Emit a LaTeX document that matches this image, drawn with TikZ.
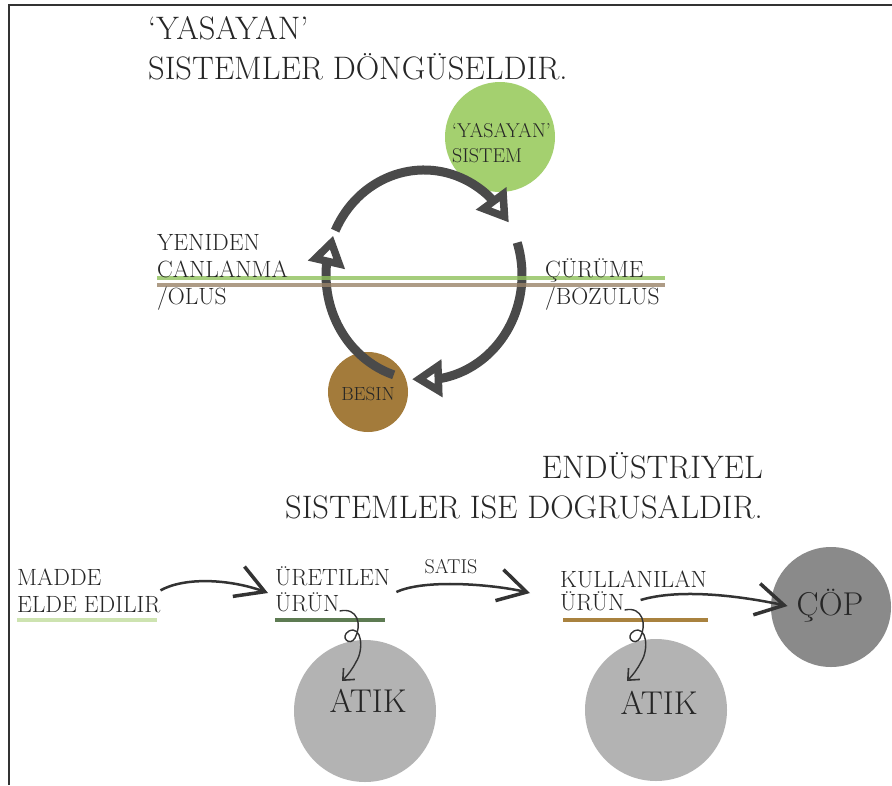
\documentclass[tikz,border=0pt]{standalone}
\usetikzlibrary{arrows.meta,bending}

\definecolor{leafgreen}{HTML}{A4D06F}
\definecolor{soilbrown}{HTML}{A37B3B}
\definecolor{arcgray}{HTML}{4A4A4A}
\definecolor{linegreen}{HTML}{8FC15C}
\definecolor{linebrown}{HTML}{9A8468}
\definecolor{wastegray}{HTML}{B3B3B3}
\definecolor{trashgray}{HTML}{8A8A8A}
\definecolor{palegreen}{HTML}{CDE3B0}
\definecolor{mossgreen}{HTML}{5D7B52}
\definecolor{ochre}{HTML}{A9823F}
\definecolor{inkgray}{HTML}{333333}

\tikzset{
  title/.style={font=\fontsize{32.5}{40}\selectfont, inner sep=0pt, align=left, text=black!85},
  tag/.style={font=\fontsize{23.5}{27}\selectfont, inner sep=0pt, align=left, text=black!85},
  big/.style={font=\fontsize{33}{33}\selectfont, inner sep=0pt, text=black!85},
  disc/.style={circle, inner sep=0pt},
  cyclearc/.style={draw=arcgray, line width=9pt, -{Triangle[length=30pt,width=36pt,fill=white,flex]}},
  hline/.style={line width=4pt, opacity=.8},
  uline/.style={line width=3.5pt},
  flow/.style={draw=inkgray, line width=2.5pt, -{Straight Barb[length=28pt,width=32pt,line width=3.5pt]}},
  curl/.style={draw=inkgray, line width=1.4pt, -{Straight Barb[length=9pt,width=16pt,line width=1.6pt]}}
}

\begin{document}
\begin{tikzpicture}[x=1pt,y=-1pt]
  \fill[white] (0,0) rectangle (892,785);
  \useasboundingbox (0,0) rectangle (892,785);
  \draw[line width=2pt, black!80] (9,785) -- (9,5) -- (892,5);

  % living systems
  \node[title, anchor=base west] (livetitle) at (148,79) {`YASAYAN'\\SISTEMLER DÖNGÜSELDIR.};

  \node[disc, fill=leafgreen, minimum size=110pt] (live) at (500,137) {};
  \node[disc, fill=soilbrown, minimum size=80pt] (food) at (368,392) {};
  \node[inner sep=0pt, align=left, anchor=base west, font=\fontsize{20}{25}\selectfont, text=black!85] (livetext) at (452,162) {`YASAYAN'\\SISTEM};
  \node[inner sep=0pt, font=\fontsize{19}{19}\selectfont, text=black!85] (foodtext) at (368,394) {BESIN};

  \coordinate (cyc) at (424,275);
  \draw[cyclearc] (cyc) ++(-155:98 and 105) arc[start angle=-155, end angle=-30, x radius=98, y radius=105];
  \draw[cyclearc] (cyc) ++(-18:98 and 105) arc[start angle=-18, end angle=97, x radius=98, y radius=105];
  \draw[cyclearc] (cyc) ++(108:98 and 105) arc[start angle=108, end angle=202, x radius=98, y radius=105];

  \draw[hline, draw=linegreen] (157,278) -- (665,278);
  \draw[hline, draw=linebrown] (157,285) -- (665,285);

  \node[tag, anchor=base west] (renew) at (157,304) {YENIDEN\\CANLANMA\\/OLUS};
  \node[tag, anchor=base west] (decay) at (545,304) {ÇÜRÜME\\/BOZULUS};

  % industrial systems
  \node[title, anchor=base east, align=right] (indtitle) at (763,518) {ENDÜSTRIYEL\\SISTEMLER ISE DOGRUSALDIR.};

  \node[disc, fill=wastegray, minimum size=142pt] (waste1) at (365,711) {};
  \node[disc, fill=wastegray, minimum size=142pt] (waste2) at (656,710) {};
  \node[disc, fill=trashgray, minimum size=120pt] (trash) at (831,607) {};
  \node[big] (waste1text) at (368,701) {ATIK};
  \node[big] (waste2text) at (659,703) {ATIK};
  \node[big] (trashtext) at (830,606) {ÇÖP};

  \node[tag, anchor=base west] (matter) at (17,612) {MADDE\\ELDE EDILIR};
  \node[tag, anchor=base west] (made) at (275,585) {ÜRETILEN};
  \node[tag, anchor=base west] (madeitem) at (275,611) {ÜRÜN};
  \node[tag, anchor=base west] (used) at (560,587) {KULLANILAN};
  \node[tag, anchor=base west] (useditem) at (560,610) {ÜRÜN};
  \node[inner sep=0pt, anchor=base, font=\fontsize{20}{20}\selectfont, text=black!85] (sale) at (451,573) {SATIS};

  \draw[uline, draw=palegreen] (17,620) -- (157,620);
  \draw[uline, draw=mossgreen] (275,620) -- (385,620);
  \draw[uline, draw=ochre] (563,620) -- (708,620);

  \draw[flow] (matter.east) .. controls +(25,-14) and +(-35,-14) .. ([shift={(-7,8)}]made.base west);
  \draw[flow] ([shift={(6,7)}]made.base east) .. controls +(30,-14) and +(-30,-8) .. ([shift={(-30,6)}]used.base west);
  \draw[flow] ([shift={(16,-10)}]useditem.base east) .. controls +(40,-12) and +(-45,-10) .. ([xshift=-9pt]trashtext.west);

  \draw[curl] (madeitem.base east) .. controls (358,607) and (362,625) .. (355,638)
    .. controls (350,647) and (339,637) .. (349,631)
    .. controls (362,625) and (364,650) .. (356,662)
    .. controls (352,670) and (347,676) .. (342,681);
  \draw[curl] (useditem.base east) .. controls (643,606) and (647,625) .. (640,638)
    .. controls (635,647) and (624,637) .. (634,631)
    .. controls (647,625) and (649,650) .. (641,662)
    .. controls (637,670) and (632,676) .. (627,681);
\end{tikzpicture}
\end{document}
